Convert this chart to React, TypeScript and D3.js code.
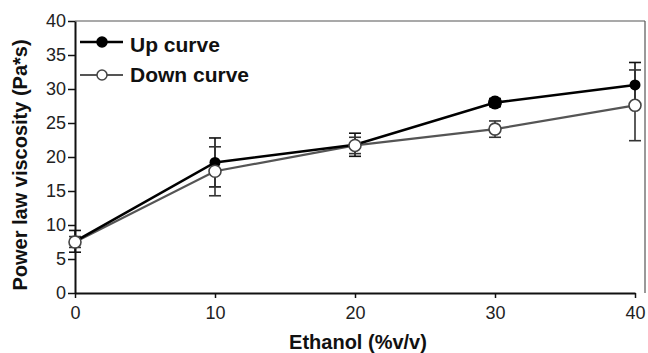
import React, { useRef, useEffect } from 'react';
import * as d3 from 'd3';

const ethanol = [0, 10, 20, 30, 40];
const upValues = [7.6, 19.2, 21.8, 28.0, 30.6];
const upErrors = [1.6, 3.6, 1.7, 0.6, 3.3];
const downValues = [7.5, 17.9, 21.7, 24.1, 27.6];
const downErrors = [0.8, 3.6, 1.2, 1.2, 5.2];
const yTicks = [0, 5, 10, 15, 20, 25, 30, 35, 40];
const xTicks = [0, 10, 20, 30, 40];

const App: React.FC = () => {
  const svgRef = useRef<SVGSVGElement>(null);
  const width = 648;
  const height = 353;

  useEffect(() => {
    if (!svgRef.current) return;
    const svg = d3.select(svgRef.current);
    svg.selectAll('*').remove();

    const font = 'Liberation Sans, Arial, sans-serif';
    const x = d3.scaleLinear().domain([0, 40]).range([75, 635]);
    const y = d3.scaleLinear().domain([0, 40]).range([293, 21]);
    const right = 645;

    // box
    svg.append('line').attr('x1', 75).attr('x2', right).attr('y1', y(40)).attr('y2', y(40))
      .attr('stroke', '#555').attr('stroke-width', 1.2);
    svg.append('line').attr('x1', right).attr('x2', right).attr('y1', y(40)).attr('y2', y(0))
      .attr('stroke', '#555').attr('stroke-width', 1.2);

    // axes
    const yAxis = svg.append('g').attr('transform', 'translate(75,0)')
      .call(d3.axisLeft(y).tickValues(yTicks).tickSize(7).tickSizeOuter(0));
    const xAxis = svg.append('g').attr('transform', `translate(0,${y(0)})`)
      .call(d3.axisBottom(x).tickValues(xTicks).tickSize(5).tickSizeOuter(0));
    [yAxis, xAxis].forEach(a => {
      a.select('.domain').attr('stroke', '#111').attr('stroke-width', 2);
      a.selectAll('.tick line').attr('stroke', '#111').attr('stroke-width', 1.5);
      a.selectAll('.tick text')
        .style('font-size', '18px').style('font-family', font).attr('fill', '#222');
    });
    yAxis.selectAll('.tick text').attr('x', -9);
    xAxis.selectAll('.tick text').attr('y', 13);

    // titles
    svg.append('text')
      .attr('transform', `translate(27,${(y(0) + y(40)) / 2 + 8}) rotate(-90)`)
      .attr('text-anchor', 'middle').attr('font-family', font).attr('font-size', 20)
      .attr('font-weight', 700).attr('fill', '#111').text('Power law viscosity (Pa*s)');
    svg.append('text')
      .attr('x', 358).attr('y', 349)
      .attr('text-anchor', 'middle').attr('font-family', font).attr('font-size', 20)
      .attr('font-weight', 700).attr('fill', '#111').text('Ethanol (%v/v)');

    const line = d3.line<number>().x((_, i) => x(ethanol[i])).y(d => y(d));

    const drawErr = (vals: number[], errs: number[], color: string) => {
      vals.forEach((v, i) => {
        const cx = x(ethanol[i]);
        const g = svg.append('g').attr('stroke', color).attr('stroke-width', 1.6);
        g.append('line').attr('x1', cx).attr('x2', cx).attr('y1', y(v - errs[i])).attr('y2', y(v + errs[i]));
        [v - errs[i], v + errs[i]].forEach(e => {
          g.append('line').attr('x1', cx - 6).attr('x2', cx + 6).attr('y1', y(e)).attr('y2', y(e));
        });
      });
    };
    drawErr(upValues, upErrors, '#111');
    drawErr(downValues, downErrors, '#333');

    svg.append('path').datum(downValues).attr('d', line).attr('fill', 'none')
      .attr('stroke', '#555').attr('stroke-width', 2.2);
    svg.append('path').datum(upValues).attr('d', line).attr('fill', 'none')
      .attr('stroke', '#000').attr('stroke-width', 2.6);

    upValues.forEach((v, i) => {
      svg.append('circle').attr('cx', x(ethanol[i])).attr('cy', y(v))
        .attr('r', i === 3 ? 7 : 5.5).attr('fill', '#000');
    });
    downValues.forEach((v, i) => {
      svg.append('circle').attr('cx', x(ethanol[i])).attr('cy', y(v))
        .attr('r', 6).attr('fill', '#fff').attr('stroke', '#444').attr('stroke-width', 1.6);
    });

    // legend
    const legend = [
      { name: 'Up curve', stroke: '#000', fill: '#000', width: 2.6, yy: 42, ty: 52 },
      { name: 'Down curve', stroke: '#555', fill: '#fff', width: 2.2, yy: 75, ty: 82 },
    ];
    legend.forEach(l => {
      svg.append('line').attr('x1', 80).attr('x2', 123).attr('y1', l.yy).attr('y2', l.yy)
        .attr('stroke', l.stroke).attr('stroke-width', l.width);
      svg.append('circle').attr('cx', 102).attr('cy', l.yy).attr('r', 5)
        .attr('fill', l.fill).attr('stroke', l.fill === '#fff' ? '#444' : '#000').attr('stroke-width', 1.5);
      svg.append('text').attr('x', 130).attr('y', l.ty)
        .attr('font-family', font).attr('font-size', 21).attr('font-weight', 700)
        .attr('fill', '#111').text(l.name);
    });
  }, []);

  return (
    <svg ref={svgRef} width={width} height={height}
      style={{ position: 'absolute', top: 0, left: 0, display: 'block' }} />
  );
};

export default App;
